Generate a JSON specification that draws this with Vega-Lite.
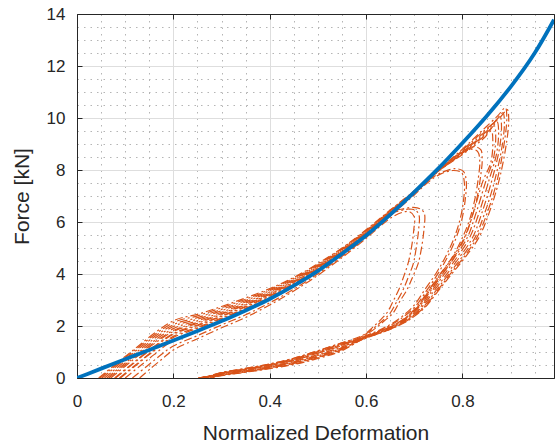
{
"$schema": "https://vega.github.io/schema/vega-lite/v6.json",
"width": 477, "height": 364,
"autosize": {"type": "none"},
"padding": {"left": 77, "top": 14, "right": 1, "bottom": 67},
"background": "white",
"config": {"view": {"stroke": null}, "font": "Liberation Sans",
 "axis": {"labelFont": "Liberation Sans", "titleFont": "Liberation Sans", "labelColor": "#262626", "titleColor": "#262626", "labelFontSize": 17, "titleFontSize": 21, "titleFontWeight": "normal", "domainColor": "#262626", "tickColor": "#262626", "labelFlush": false, "labelOverlap": false}},
"datasets": {
"blue": [
{"x":0,"y":0},{"x":0.05,"y":0.36},{"x":0.1,"y":0.72},{"x":0.15,"y":1.08},{"x":0.2,"y":1.44},{"x":0.25,"y":1.81},{"x":0.3,"y":2.19},{"x":0.35,"y":2.6},{"x":0.4,"y":3.04},{"x":0.45,"y":3.55},{"x":0.5,"y":4.12},{"x":0.55,"y":4.78},{"x":0.6,"y":5.48},{"x":0.65,"y":6.28},{"x":0.7,"y":7.15},{"x":0.75,"y":8.06},{"x":0.8,"y":9.04},{"x":0.85,"y":10.07},{"x":0.9,"y":11.2},{"x":0.95,"y":12.5},{"x":0.99,"y":13.78}
],
"orange": [
{"c":"M1","i":0,"x":0.045,"y":0},{"c":"M1","i":1,"x":0.075,"y":0.45},{"c":"M1","i":2,"x":0.105,"y":0.9},{"c":"M1","i":3,"x":0.2,"y":2.2},{"c":"M1","i":4,"x":0.25,"y":2.45},{"c":"M1","i":5,"x":0.3,"y":2.75},{"c":"M1","i":6,"x":0.35,"y":3.08},{"c":"M1","i":7,"x":0.4,"y":3.44},{"c":"M1","i":8,"x":0.45,"y":3.87},{"c":"M1","i":9,"x":0.5,"y":4.4},{"c":"M1","i":10,"x":0.55,"y":5.0},{"c":"M1","i":11,"x":0.6,"y":5.7},{"c":"M1","i":12,"x":0.65,"y":6.46},{"c":"M1","i":13,"x":0.7,"y":7.2},{"c":"M1","i":14,"x":0.75,"y":8.0},{"c":"M1","i":15,"x":0.8,"y":8.8},{"c":"M1","i":16,"x":0.84,"y":9.5},{"c":"M1","i":17,"x":0.874,"y":10.1},{"c":"M1","i":18,"x":0.889,"y":10.4},{"c":"M1","i":19,"x":0.892,"y":10.05},{"c":"M1","i":20,"x":0.888,"y":9.2},{"c":"M1","i":21,"x":0.872,"y":7.6},{"c":"M1","i":22,"x":0.851,"y":6.33},{"c":"M1","i":23,"x":0.83,"y":5.4},{"c":"M1","i":24,"x":0.803,"y":4.65},{"c":"M1","i":25,"x":0.776,"y":4.03},{"c":"M1","i":26,"x":0.749,"y":3.38},{"c":"M1","i":27,"x":0.721,"y":2.73},{"c":"M1","i":28,"x":0.687,"y":2.23},{"c":"M1","i":29,"x":0.646,"y":1.85},{"c":"M1","i":30,"x":0.605,"y":1.58},{"c":"M1","i":31,"x":0.55,"y":1.3},{"c":"M1","i":32,"x":0.5,"y":1.0},{"c":"M1","i":33,"x":0.45,"y":0.72},{"c":"M1","i":34,"x":0.4,"y":0.51},{"c":"M1","i":35,"x":0.35,"y":0.34},{"c":"M1","i":36,"x":0.3,"y":0.19},{"c":"M1","i":37,"x":0.275,"y":0.07},{"c":"M1","i":38,"x":0.255,"y":0},
{"c":"M2","i":0,"x":0.052,"y":0},{"c":"M2","i":1,"x":0.082,"y":0.45},{"c":"M2","i":2,"x":0.112,"y":0.9},{"c":"M2","i":3,"x":0.2,"y":2.05},{"c":"M2","i":4,"x":0.25,"y":2.32},{"c":"M2","i":5,"x":0.3,"y":2.64},{"c":"M2","i":6,"x":0.35,"y":2.98},{"c":"M2","i":7,"x":0.4,"y":3.36},{"c":"M2","i":8,"x":0.45,"y":3.8},{"c":"M2","i":9,"x":0.5,"y":4.34},{"c":"M2","i":10,"x":0.55,"y":4.95},{"c":"M2","i":11,"x":0.6,"y":5.66},{"c":"M2","i":12,"x":0.65,"y":6.42},{"c":"M2","i":13,"x":0.7,"y":7.18},{"c":"M2","i":14,"x":0.75,"y":7.99},{"c":"M2","i":15,"x":0.8,"y":8.76},{"c":"M2","i":16,"x":0.84,"y":9.43},{"c":"M2","i":17,"x":0.878,"y":10.02},{"c":"M2","i":18,"x":0.893,"y":10.32},{"c":"M2","i":19,"x":0.896,"y":9.97},{"c":"M2","i":20,"x":0.892,"y":9.12},{"c":"M2","i":21,"x":0.876,"y":7.6},{"c":"M2","i":22,"x":0.855,"y":6.33},{"c":"M2","i":23,"x":0.834,"y":5.4},{"c":"M2","i":24,"x":0.806,"y":4.65},{"c":"M2","i":25,"x":0.779,"y":4.03},{"c":"M2","i":26,"x":0.751,"y":3.38},{"c":"M2","i":27,"x":0.723,"y":2.73},{"c":"M2","i":28,"x":0.689,"y":2.23},{"c":"M2","i":29,"x":0.647,"y":1.85},{"c":"M2","i":30,"x":0.606,"y":1.58},{"c":"M2","i":31,"x":0.55,"y":1.15},{"c":"M2","i":32,"x":0.5,"y":0.85},{"c":"M2","i":33,"x":0.45,"y":0.6},{"c":"M2","i":34,"x":0.4,"y":0.42},{"c":"M2","i":35,"x":0.35,"y":0.27},{"c":"M2","i":36,"x":0.3,"y":0.13},{"c":"M2","i":37,"x":0.275,"y":0.04},{"c":"M2","i":38,"x":0.262,"y":0},
{"c":"M3","i":0,"x":0.062,"y":0},{"c":"M3","i":1,"x":0.092,"y":0.45},{"c":"M3","i":2,"x":0.122,"y":0.9},{"c":"M3","i":3,"x":0.2,"y":1.9},{"c":"M3","i":4,"x":0.25,"y":2.2},{"c":"M3","i":5,"x":0.3,"y":2.53},{"c":"M3","i":6,"x":0.35,"y":2.88},{"c":"M3","i":7,"x":0.4,"y":3.27},{"c":"M3","i":8,"x":0.45,"y":3.73},{"c":"M3","i":9,"x":0.5,"y":4.28},{"c":"M3","i":10,"x":0.55,"y":4.9},{"c":"M3","i":11,"x":0.6,"y":5.61},{"c":"M3","i":12,"x":0.65,"y":6.39},{"c":"M3","i":13,"x":0.7,"y":7.15},{"c":"M3","i":14,"x":0.75,"y":7.98},{"c":"M3","i":15,"x":0.8,"y":8.72},{"c":"M3","i":16,"x":0.84,"y":9.36},{"c":"M3","i":17,"x":0.869,"y":9.9},{"c":"M3","i":18,"x":0.884,"y":10.2},{"c":"M3","i":19,"x":0.887,"y":9.85},{"c":"M3","i":20,"x":0.883,"y":9.0},{"c":"M3","i":21,"x":0.867,"y":7.6},{"c":"M3","i":22,"x":0.846,"y":6.33},{"c":"M3","i":23,"x":0.826,"y":5.4},{"c":"M3","i":24,"x":0.799,"y":4.65},{"c":"M3","i":25,"x":0.773,"y":4.03},{"c":"M3","i":26,"x":0.746,"y":3.38},{"c":"M3","i":27,"x":0.719,"y":2.73},{"c":"M3","i":28,"x":0.685,"y":2.23},{"c":"M3","i":29,"x":0.644,"y":1.85},{"c":"M3","i":30,"x":0.604,"y":1.58},{"c":"M3","i":31,"x":0.55,"y":1.35},{"c":"M3","i":32,"x":0.5,"y":1.05},{"c":"M3","i":33,"x":0.45,"y":0.76},{"c":"M3","i":34,"x":0.4,"y":0.54},{"c":"M3","i":35,"x":0.35,"y":0.37},{"c":"M3","i":36,"x":0.3,"y":0.21},{"c":"M3","i":37,"x":0.275,"y":0.08},{"c":"M3","i":38,"x":0.25,"y":0},
{"c":"M4","i":0,"x":0.07,"y":0},{"c":"M4","i":1,"x":0.1,"y":0.45},{"c":"M4","i":2,"x":0.13,"y":0.9},{"c":"M4","i":3,"x":0.2,"y":1.79},{"c":"M4","i":4,"x":0.25,"y":2.1},{"c":"M4","i":5,"x":0.3,"y":2.45},{"c":"M4","i":6,"x":0.35,"y":2.81},{"c":"M4","i":7,"x":0.4,"y":3.21},{"c":"M4","i":8,"x":0.45,"y":3.68},{"c":"M4","i":9,"x":0.5,"y":4.24},{"c":"M4","i":10,"x":0.55,"y":4.86},{"c":"M4","i":11,"x":0.6,"y":5.58},{"c":"M4","i":12,"x":0.65,"y":6.36},{"c":"M4","i":13,"x":0.7,"y":7.13},{"c":"M4","i":14,"x":0.75,"y":7.97},{"c":"M4","i":15,"x":0.8,"y":8.69},{"c":"M4","i":16,"x":0.84,"y":9.31},{"c":"M4","i":17,"x":0.863,"y":9.75},{"c":"M4","i":18,"x":0.878,"y":10.05},{"c":"M4","i":19,"x":0.881,"y":9.7},{"c":"M4","i":20,"x":0.877,"y":8.85},{"c":"M4","i":21,"x":0.861,"y":7.6},{"c":"M4","i":22,"x":0.84,"y":6.33},{"c":"M4","i":23,"x":0.821,"y":5.4},{"c":"M4","i":24,"x":0.794,"y":4.65},{"c":"M4","i":25,"x":0.769,"y":4.03},{"c":"M4","i":26,"x":0.742,"y":3.38},{"c":"M4","i":27,"x":0.716,"y":2.73},{"c":"M4","i":28,"x":0.683,"y":2.23},{"c":"M4","i":29,"x":0.643,"y":1.85},{"c":"M4","i":30,"x":0.603,"y":1.58},{"c":"M4","i":31,"x":0.55,"y":1.2},{"c":"M4","i":32,"x":0.5,"y":0.9},{"c":"M4","i":33,"x":0.45,"y":0.64},{"c":"M4","i":34,"x":0.4,"y":0.45},{"c":"M4","i":35,"x":0.35,"y":0.29},{"c":"M4","i":36,"x":0.3,"y":0.15},{"c":"M4","i":37,"x":0.275,"y":0.05},{"c":"M4","i":38,"x":0.258,"y":0},
{"c":"M5","i":0,"x":0.08,"y":0},{"c":"M5","i":1,"x":0.11,"y":0.45},{"c":"M5","i":2,"x":0.14,"y":0.9},{"c":"M5","i":3,"x":0.2,"y":1.68},{"c":"M5","i":4,"x":0.25,"y":2.01},{"c":"M5","i":5,"x":0.3,"y":2.37},{"c":"M5","i":6,"x":0.35,"y":2.73},{"c":"M5","i":7,"x":0.4,"y":3.15},{"c":"M5","i":8,"x":0.45,"y":3.63},{"c":"M5","i":9,"x":0.5,"y":4.19},{"c":"M5","i":10,"x":0.55,"y":4.83},{"c":"M5","i":11,"x":0.6,"y":5.55},{"c":"M5","i":12,"x":0.65,"y":6.33},{"c":"M5","i":13,"x":0.7,"y":7.12},{"c":"M5","i":14,"x":0.75,"y":7.97},{"c":"M5","i":15,"x":0.8,"y":8.66},{"c":"M5","i":16,"x":0.84,"y":9.26},{"c":"M5","i":17,"x":0.857,"y":9.55},{"c":"M5","i":18,"x":0.872,"y":9.85},{"c":"M5","i":19,"x":0.875,"y":9.5},{"c":"M5","i":20,"x":0.871,"y":8.65},{"c":"M5","i":21,"x":0.855,"y":7.6},{"c":"M5","i":22,"x":0.834,"y":6.33},{"c":"M5","i":23,"x":0.815,"y":5.4},{"c":"M5","i":24,"x":0.789,"y":4.65},{"c":"M5","i":25,"x":0.764,"y":4.03},{"c":"M5","i":26,"x":0.738,"y":3.38},{"c":"M5","i":27,"x":0.713,"y":2.73},{"c":"M5","i":28,"x":0.681,"y":2.23},{"c":"M5","i":29,"x":0.641,"y":1.85},{"c":"M5","i":30,"x":0.602,"y":1.58},{"c":"M5","i":31,"x":0.55,"y":1.08},{"c":"M5","i":32,"x":0.5,"y":0.78},{"c":"M5","i":33,"x":0.45,"y":0.54},{"c":"M5","i":34,"x":0.4,"y":0.38},{"c":"M5","i":35,"x":0.35,"y":0.23},{"c":"M5","i":36,"x":0.3,"y":0.1},{"c":"M5","i":37,"x":0.28,"y":0.03},{"c":"M5","i":38,"x":0.27,"y":0},
{"c":"M6","i":0,"x":0.09,"y":0},{"c":"M6","i":1,"x":0.12,"y":0.45},{"c":"M6","i":2,"x":0.15,"y":0.9},{"c":"M6","i":3,"x":0.2,"y":1.56},{"c":"M6","i":4,"x":0.25,"y":1.91},{"c":"M6","i":5,"x":0.3,"y":2.28},{"c":"M6","i":6,"x":0.35,"y":2.66},{"c":"M6","i":7,"x":0.4,"y":3.08},{"c":"M6","i":8,"x":0.45,"y":3.57},{"c":"M6","i":9,"x":0.5,"y":4.15},{"c":"M6","i":10,"x":0.55,"y":4.79},{"c":"M6","i":11,"x":0.6,"y":5.51},{"c":"M6","i":12,"x":0.65,"y":6.31},{"c":"M6","i":13,"x":0.7,"y":7.1},{"c":"M6","i":14,"x":0.75,"y":7.96},{"c":"M6","i":15,"x":0.8,"y":8.63},{"c":"M6","i":16,"x":0.835,"y":9.15},{"c":"M6","i":17,"x":0.851,"y":9.4},{"c":"M6","i":18,"x":0.866,"y":9.7},{"c":"M6","i":19,"x":0.869,"y":9.35},{"c":"M6","i":20,"x":0.865,"y":8.5},{"c":"M6","i":21,"x":0.849,"y":7.6},{"c":"M6","i":22,"x":0.828,"y":6.33},{"c":"M6","i":23,"x":0.81,"y":5.4},{"c":"M6","i":24,"x":0.784,"y":4.65},{"c":"M6","i":25,"x":0.76,"y":4.03},{"c":"M6","i":26,"x":0.735,"y":3.38},{"c":"M6","i":27,"x":0.71,"y":2.73},{"c":"M6","i":28,"x":0.678,"y":2.23},{"c":"M6","i":29,"x":0.639,"y":1.85},{"c":"M6","i":30,"x":0.601,"y":1.58},{"c":"M6","i":31,"x":0.55,"y":1.26},{"c":"M6","i":32,"x":0.5,"y":0.96},{"c":"M6","i":33,"x":0.45,"y":0.69},{"c":"M6","i":34,"x":0.4,"y":0.49},{"c":"M6","i":35,"x":0.35,"y":0.32},{"c":"M6","i":36,"x":0.3,"y":0.17},{"c":"M6","i":37,"x":0.275,"y":0.06},{"c":"M6","i":38,"x":0.255,"y":0},
{"c":"M7","i":0,"x":0.1,"y":0},{"c":"M7","i":1,"x":0.13,"y":0.45},{"c":"M7","i":2,"x":0.16,"y":0.9},{"c":"M7","i":3,"x":0.2,"y":1.45},{"c":"M7","i":4,"x":0.25,"y":1.82},{"c":"M7","i":5,"x":0.3,"y":2.2},{"c":"M7","i":6,"x":0.35,"y":2.58},{"c":"M7","i":7,"x":0.4,"y":3.02},{"c":"M7","i":8,"x":0.45,"y":3.52},{"c":"M7","i":9,"x":0.5,"y":4.1},{"c":"M7","i":10,"x":0.55,"y":4.75},{"c":"M7","i":11,"x":0.6,"y":5.48},{"c":"M7","i":12,"x":0.65,"y":6.28},{"c":"M7","i":13,"x":0.7,"y":7.08},{"c":"M7","i":14,"x":0.75,"y":7.95},{"c":"M7","i":15,"x":0.8,"y":8.6},{"c":"M7","i":16,"x":0.83,"y":9.0},{"c":"M7","i":17,"x":0.846,"y":9.25},{"c":"M7","i":18,"x":0.86,"y":9.5},{"c":"M7","i":19,"x":0.863,"y":9.15},{"c":"M7","i":20,"x":0.859,"y":8.3},{"c":"M7","i":21,"x":0.843,"y":7.6},{"c":"M7","i":22,"x":0.822,"y":6.33},{"c":"M7","i":23,"x":0.804,"y":5.4},{"c":"M7","i":24,"x":0.78,"y":4.65},{"c":"M7","i":25,"x":0.756,"y":4.03},{"c":"M7","i":26,"x":0.731,"y":3.38},{"c":"M7","i":27,"x":0.707,"y":2.73},{"c":"M7","i":28,"x":0.676,"y":2.23},{"c":"M7","i":29,"x":0.637,"y":1.85},{"c":"M7","i":30,"x":0.599,"y":1.58},{"c":"M7","i":31,"x":0.55,"y":1.05},{"c":"M7","i":32,"x":0.5,"y":0.75},{"c":"M7","i":33,"x":0.45,"y":0.52},{"c":"M7","i":34,"x":0.4,"y":0.36},{"c":"M7","i":35,"x":0.35,"y":0.22},{"c":"M7","i":36,"x":0.3,"y":0.09},{"c":"M7","i":37,"x":0.282,"y":0.02},{"c":"M7","i":38,"x":0.274,"y":0},
{"c":"C1","i":0,"x":0.048,"y":0},{"c":"C1","i":1,"x":0.078,"y":0.45},{"c":"C1","i":2,"x":0.108,"y":0.9},{"c":"C1","i":3,"x":0.2,"y":2.13},{"c":"C1","i":4,"x":0.25,"y":2.39},{"c":"C1","i":5,"x":0.3,"y":2.7},{"c":"C1","i":6,"x":0.35,"y":3.03},{"c":"C1","i":7,"x":0.4,"y":3.4},{"c":"C1","i":8,"x":0.45,"y":3.84},{"c":"C1","i":9,"x":0.5,"y":4.37},{"c":"C1","i":10,"x":0.55,"y":4.98},{"c":"C1","i":11,"x":0.6,"y":5.68},{"c":"C1","i":12,"x":0.65,"y":6.44},{"c":"C1","i":13,"x":0.7,"y":7.19},{"c":"C1","i":14,"x":0.75,"y":8.0},{"c":"C1","i":15,"x":0.78,"y":8.45},{"c":"C1","i":16,"x":0.805,"y":8.78},{"c":"C1","i":17,"x":0.825,"y":8.9},{"c":"C1","i":18,"x":0.838,"y":8.78},{"c":"C1","i":19,"x":0.841,"y":8.4},{"c":"C1","i":20,"x":0.838,"y":7.8},{"c":"C1","i":21,"x":0.831,"y":7.0},{"c":"C1","i":22,"x":0.82,"y":6.2},{"c":"C1","i":23,"x":0.805,"y":5.4},{"c":"C1","i":24,"x":0.783,"y":4.65},{"c":"C1","i":25,"x":0.759,"y":4.03},{"c":"C1","i":26,"x":0.733,"y":3.38},{"c":"C1","i":27,"x":0.708,"y":2.73},{"c":"C1","i":28,"x":0.677,"y":2.23},{"c":"C1","i":29,"x":0.638,"y":1.85},{"c":"C1","i":30,"x":0.6,"y":1.58},{"c":"C1","i":31,"x":0.55,"y":1.32},{"c":"C1","i":32,"x":0.5,"y":1.02},{"c":"C1","i":33,"x":0.45,"y":0.74},{"c":"C1","i":34,"x":0.4,"y":0.52},{"c":"C1","i":35,"x":0.35,"y":0.35},{"c":"C1","i":36,"x":0.3,"y":0.2},{"c":"C1","i":37,"x":0.275,"y":0.07},{"c":"C1","i":38,"x":0.252,"y":0},
{"c":"C2","i":0,"x":0.078,"y":0},{"c":"C2","i":1,"x":0.108,"y":0.45},{"c":"C2","i":2,"x":0.138,"y":0.9},{"c":"C2","i":3,"x":0.2,"y":1.71},{"c":"C2","i":4,"x":0.25,"y":2.04},{"c":"C2","i":5,"x":0.3,"y":2.39},{"c":"C2","i":6,"x":0.35,"y":2.76},{"c":"C2","i":7,"x":0.4,"y":3.17},{"c":"C2","i":8,"x":0.45,"y":3.64},{"c":"C2","i":9,"x":0.5,"y":4.21},{"c":"C2","i":10,"x":0.55,"y":4.84},{"c":"C2","i":11,"x":0.6,"y":5.56},{"c":"C2","i":12,"x":0.65,"y":6.34},{"c":"C2","i":13,"x":0.7,"y":7.12},{"c":"C2","i":14,"x":0.75,"y":7.97},{"c":"C2","i":15,"x":0.78,"y":8.35},{"c":"C2","i":16,"x":0.8,"y":8.65},{"c":"C2","i":17,"x":0.82,"y":8.8},{"c":"C2","i":18,"x":0.832,"y":8.7},{"c":"C2","i":19,"x":0.836,"y":8.3},{"c":"C2","i":20,"x":0.833,"y":7.7},{"c":"C2","i":21,"x":0.826,"y":6.9},{"c":"C2","i":22,"x":0.815,"y":6.1},{"c":"C2","i":23,"x":0.8,"y":5.4},{"c":"C2","i":24,"x":0.779,"y":4.65},{"c":"C2","i":25,"x":0.755,"y":4.03},{"c":"C2","i":26,"x":0.73,"y":3.38},{"c":"C2","i":27,"x":0.705,"y":2.73},{"c":"C2","i":28,"x":0.675,"y":2.23},{"c":"C2","i":29,"x":0.636,"y":1.85},{"c":"C2","i":30,"x":0.598,"y":1.58},{"c":"C2","i":31,"x":0.55,"y":1.12},{"c":"C2","i":32,"x":0.5,"y":0.82},{"c":"C2","i":33,"x":0.45,"y":0.58},{"c":"C2","i":34,"x":0.4,"y":0.4},{"c":"C2","i":35,"x":0.35,"y":0.25},{"c":"C2","i":36,"x":0.3,"y":0.12},{"c":"C2","i":37,"x":0.278,"y":0.04},{"c":"C2","i":38,"x":0.266,"y":0},
{"c":"B1","i":0,"x":0.057,"y":0},{"c":"B1","i":1,"x":0.087,"y":0.45},{"c":"B1","i":2,"x":0.117,"y":0.9},{"c":"B1","i":3,"x":0.2,"y":1.98},{"c":"B1","i":4,"x":0.25,"y":2.26},{"c":"B1","i":5,"x":0.3,"y":2.59},{"c":"B1","i":6,"x":0.35,"y":2.93},{"c":"B1","i":7,"x":0.4,"y":3.31},{"c":"B1","i":8,"x":0.45,"y":3.77},{"c":"B1","i":9,"x":0.5,"y":4.31},{"c":"B1","i":10,"x":0.55,"y":4.93},{"c":"B1","i":11,"x":0.6,"y":5.63},{"c":"B1","i":12,"x":0.65,"y":6.41},{"c":"B1","i":13,"x":0.7,"y":7.16},{"c":"B1","i":14,"x":0.73,"y":7.62},{"c":"B1","i":15,"x":0.76,"y":7.93},{"c":"B1","i":16,"x":0.785,"y":8.05},{"c":"B1","i":17,"x":0.802,"y":7.95},{"c":"B1","i":18,"x":0.808,"y":7.55},{"c":"B1","i":19,"x":0.806,"y":6.9},{"c":"B1","i":20,"x":0.8,"y":6.2},{"c":"B1","i":21,"x":0.789,"y":5.5},{"c":"B1","i":22,"x":0.773,"y":4.8},{"c":"B1","i":23,"x":0.752,"y":4.1},{"c":"B1","i":24,"x":0.727,"y":3.4},{"c":"B1","i":25,"x":0.702,"y":2.75},{"c":"B1","i":26,"x":0.67,"y":2.25},{"c":"B1","i":27,"x":0.632,"y":1.85},{"c":"B1","i":28,"x":0.596,"y":1.58},{"c":"B1","i":29,"x":0.55,"y":1.25},{"c":"B1","i":30,"x":0.5,"y":0.95},{"c":"B1","i":31,"x":0.45,"y":0.68},{"c":"B1","i":32,"x":0.4,"y":0.48},{"c":"B1","i":33,"x":0.35,"y":0.32},{"c":"B1","i":34,"x":0.3,"y":0.17},{"c":"B1","i":35,"x":0.275,"y":0.06},{"c":"B1","i":36,"x":0.256,"y":0},
{"c":"B2","i":0,"x":0.115,"y":0},{"c":"B2","i":1,"x":0.145,"y":0.45},{"c":"B2","i":2,"x":0.175,"y":0.9},{"c":"B2","i":3,"x":0.2,"y":1.23},{"c":"B2","i":4,"x":0.25,"y":1.63},{"c":"B2","i":5,"x":0.3,"y":2.04},{"c":"B2","i":6,"x":0.35,"y":2.43},{"c":"B2","i":7,"x":0.4,"y":2.89},{"c":"B2","i":8,"x":0.45,"y":3.42},{"c":"B2","i":9,"x":0.5,"y":4.01},{"c":"B2","i":10,"x":0.55,"y":4.68},{"c":"B2","i":11,"x":0.6,"y":5.41},{"c":"B2","i":12,"x":0.65,"y":6.23},{"c":"B2","i":13,"x":0.7,"y":7.04},{"c":"B2","i":14,"x":0.73,"y":7.55},{"c":"B2","i":15,"x":0.755,"y":7.85},{"c":"B2","i":16,"x":0.78,"y":7.98},{"c":"B2","i":17,"x":0.798,"y":7.9},{"c":"B2","i":18,"x":0.804,"y":7.5},{"c":"B2","i":19,"x":0.802,"y":6.8},{"c":"B2","i":20,"x":0.795,"y":6.1},{"c":"B2","i":21,"x":0.783,"y":5.4},{"c":"B2","i":22,"x":0.766,"y":4.7},{"c":"B2","i":23,"x":0.746,"y":4.05},{"c":"B2","i":24,"x":0.722,"y":3.4},{"c":"B2","i":25,"x":0.698,"y":2.76},{"c":"B2","i":26,"x":0.667,"y":2.26},{"c":"B2","i":27,"x":0.63,"y":1.86},{"c":"B2","i":28,"x":0.594,"y":1.58},{"c":"B2","i":29,"x":0.55,"y":1.1},{"c":"B2","i":30,"x":0.5,"y":0.8},{"c":"B2","i":31,"x":0.45,"y":0.56},{"c":"B2","i":32,"x":0.4,"y":0.39},{"c":"B2","i":33,"x":0.35,"y":0.24},{"c":"B2","i":34,"x":0.3,"y":0.11},{"c":"B2","i":35,"x":0.28,"y":0.035},{"c":"B2","i":36,"x":0.268,"y":0},
{"c":"A1","i":0,"x":0.066,"y":0},{"c":"A1","i":1,"x":0.096,"y":0.45},{"c":"A1","i":2,"x":0.126,"y":0.9},{"c":"A1","i":3,"x":0.2,"y":1.83},{"c":"A1","i":4,"x":0.25,"y":2.14},{"c":"A1","i":5,"x":0.3,"y":2.48},{"c":"A1","i":6,"x":0.35,"y":2.83},{"c":"A1","i":7,"x":0.4,"y":3.23},{"c":"A1","i":8,"x":0.45,"y":3.7},{"c":"A1","i":9,"x":0.5,"y":4.25},{"c":"A1","i":10,"x":0.55,"y":4.88},{"c":"A1","i":11,"x":0.6,"y":5.59},{"c":"A1","i":12,"x":0.65,"y":6.37},{"c":"A1","i":13,"x":0.675,"y":6.5},{"c":"A1","i":14,"x":0.698,"y":6.56},{"c":"A1","i":15,"x":0.713,"y":6.5},{"c":"A1","i":16,"x":0.721,"y":6.32},{"c":"A1","i":17,"x":0.72,"y":5.7},{"c":"A1","i":18,"x":0.715,"y":5.0},{"c":"A1","i":19,"x":0.708,"y":4.4},{"c":"A1","i":20,"x":0.697,"y":3.9},{"c":"A1","i":21,"x":0.685,"y":3.4},{"c":"A1","i":22,"x":0.67,"y":2.95},{"c":"A1","i":23,"x":0.656,"y":2.5},{"c":"A1","i":24,"x":0.638,"y":2.2},{"c":"A1","i":25,"x":0.62,"y":1.92},{"c":"A1","i":26,"x":0.598,"y":1.65},{"c":"A1","i":27,"x":0.55,"y":1.3},{"c":"A1","i":28,"x":0.5,"y":1.0},{"c":"A1","i":29,"x":0.45,"y":0.72},{"c":"A1","i":30,"x":0.4,"y":0.51},{"c":"A1","i":31,"x":0.35,"y":0.34},{"c":"A1","i":32,"x":0.3,"y":0.19},{"c":"A1","i":33,"x":0.275,"y":0.07},{"c":"A1","i":34,"x":0.257,"y":0},
{"c":"A2","i":0,"x":0.088,"y":0},{"c":"A2","i":1,"x":0.118,"y":0.45},{"c":"A2","i":2,"x":0.148,"y":0.9},{"c":"A2","i":3,"x":0.2,"y":1.6},{"c":"A2","i":4,"x":0.25,"y":1.95},{"c":"A2","i":5,"x":0.3,"y":2.31},{"c":"A2","i":6,"x":0.35,"y":2.68},{"c":"A2","i":7,"x":0.4,"y":3.1},{"c":"A2","i":8,"x":0.45,"y":3.59},{"c":"A2","i":9,"x":0.5,"y":4.16},{"c":"A2","i":10,"x":0.55,"y":4.8},{"c":"A2","i":11,"x":0.6,"y":5.52},{"c":"A2","i":12,"x":0.65,"y":6.32},{"c":"A2","i":13,"x":0.672,"y":6.44},{"c":"A2","i":14,"x":0.69,"y":6.5},{"c":"A2","i":15,"x":0.703,"y":6.45},{"c":"A2","i":16,"x":0.71,"y":6.25},{"c":"A2","i":17,"x":0.709,"y":5.7},{"c":"A2","i":18,"x":0.704,"y":5.0},{"c":"A2","i":19,"x":0.698,"y":4.4},{"c":"A2","i":20,"x":0.688,"y":3.9},{"c":"A2","i":21,"x":0.677,"y":3.4},{"c":"A2","i":22,"x":0.664,"y":2.95},{"c":"A2","i":23,"x":0.65,"y":2.5},{"c":"A2","i":24,"x":0.634,"y":2.2},{"c":"A2","i":25,"x":0.616,"y":1.92},{"c":"A2","i":26,"x":0.596,"y":1.65},{"c":"A2","i":27,"x":0.55,"y":1.17},{"c":"A2","i":28,"x":0.5,"y":0.87},{"c":"A2","i":29,"x":0.45,"y":0.62},{"c":"A2","i":30,"x":0.4,"y":0.43},{"c":"A2","i":31,"x":0.35,"y":0.28},{"c":"A2","i":32,"x":0.3,"y":0.14},{"c":"A2","i":33,"x":0.276,"y":0.045},{"c":"A2","i":34,"x":0.263,"y":0},
{"c":"A3","i":0,"x":0.13,"y":0},{"c":"A3","i":1,"x":0.155,"y":0.4},{"c":"A3","i":2,"x":0.18,"y":0.78},{"c":"A3","i":3,"x":0.2,"y":1.08},{"c":"A3","i":4,"x":0.25,"y":1.51},{"c":"A3","i":5,"x":0.3,"y":1.93},{"c":"A3","i":6,"x":0.35,"y":2.33},{"c":"A3","i":7,"x":0.4,"y":2.81},{"c":"A3","i":8,"x":0.45,"y":3.35},{"c":"A3","i":9,"x":0.5,"y":3.95},{"c":"A3","i":10,"x":0.55,"y":4.63},{"c":"A3","i":11,"x":0.6,"y":5.37},{"c":"A3","i":12,"x":0.63,"y":5.85},{"c":"A3","i":13,"x":0.655,"y":6.2},{"c":"A3","i":14,"x":0.675,"y":6.37},{"c":"A3","i":15,"x":0.69,"y":6.4},{"c":"A3","i":16,"x":0.7,"y":6.2},{"c":"A3","i":17,"x":0.699,"y":5.7},{"c":"A3","i":18,"x":0.694,"y":5.0},{"c":"A3","i":19,"x":0.687,"y":4.4},{"c":"A3","i":20,"x":0.678,"y":3.9},{"c":"A3","i":21,"x":0.668,"y":3.4},{"c":"A3","i":22,"x":0.656,"y":2.95},{"c":"A3","i":23,"x":0.643,"y":2.5},{"c":"A3","i":24,"x":0.628,"y":2.2},{"c":"A3","i":25,"x":0.612,"y":1.92},{"c":"A3","i":26,"x":0.594,"y":1.65},{"c":"A3","i":27,"x":0.55,"y":1.35},{"c":"A3","i":28,"x":0.5,"y":1.05},{"c":"A3","i":29,"x":0.45,"y":0.76},{"c":"A3","i":30,"x":0.4,"y":0.54},{"c":"A3","i":31,"x":0.35,"y":0.37},{"c":"A3","i":32,"x":0.3,"y":0.21},{"c":"A3","i":33,"x":0.275,"y":0.08},{"c":"A3","i":34,"x":0.252,"y":0}
]},
"layer": [
 {"data": {"name": "orange"},
  "mark": {"type": "line", "color": "#D95319", "strokeWidth": 1.2, "strokeDash": [8, 3, 2, 3], "interpolate": "catmull-rom", "clip": true},
  "encoding": {
   "x": {"field": "x", "type": "quantitative", "scale": {"domain": [0, 0.99], "nice": false, "zero": false},
    "axis": {"orient": "bottom", "values": [0.05,0.1,0.15,0.25,0.3,0.35,0.45,0.5,0.55,0.65,0.7,0.75,0.85,0.9,0.95], "grid": true, "gridDash": [1.5, 5], "gridColor": "#b5b5b5", "labels": false, "ticks": false, "domain": false, "title": null}},
   "y": {"field": "y", "type": "quantitative", "scale": {"domain": [0, 14], "nice": false},
    "axis": {"orient": "left", "values": [0.5,1,1.5,2.5,3,3.5,4.5,5,5.5,6.5,7,7.5,8.5,9,9.5,10.5,11,11.5,12.5,13,13.5], "grid": true, "gridDash": [1.5, 5], "gridColor": "#b5b5b5", "labels": false, "ticks": false, "domain": false, "title": null}},
   "detail": {"field": "c"},
   "order": {"field": "i", "type": "quantitative"}
  }},
 {"data": {"name": "blue"},
  "mark": {"type": "line", "color": "#0072BD", "strokeWidth": 3.8, "interpolate": "natural", "clip": true},
  "encoding": {
   "x": {"field": "x", "type": "quantitative",
    "axis": {"orient": "bottom", "values": [0, 0.2, 0.4, 0.6, 0.8], "format": "~g", "grid": true, "gridColor": "#dedede", "tickSize": -5, "labelPadding": 20, "title": "Normalized Deformation", "titlePadding": 13, "domain": true}},
   "y": {"field": "y", "type": "quantitative",
    "axis": {"orient": "left", "values": [0, 2, 4, 6, 8, 10, 12, 14], "format": "d", "grid": true, "gridColor": "#dedede", "tickSize": -5, "labelPadding": 17, "title": "Force [kN]", "titlePadding": 14, "domain": true}}
  }},
 {"data": {"name": "blue"},
  "mark": {"type": "line", "opacity": 0},
  "encoding": {
   "x": {"field": "x", "type": "quantitative",
    "axis": {"orient": "top", "values": [0, 0.2, 0.4, 0.6, 0.8], "labels": false, "grid": false, "tickSize": -5, "title": null, "domain": true}},
   "y": {"field": "y", "type": "quantitative",
    "axis": {"orient": "right", "values": [0, 2, 4, 6, 8, 10, 12, 14], "labels": false, "grid": false, "tickSize": -5, "title": null, "domain": true}}
  }}
],
"resolve": {"axis": {"x": "independent", "y": "independent"}}
}
